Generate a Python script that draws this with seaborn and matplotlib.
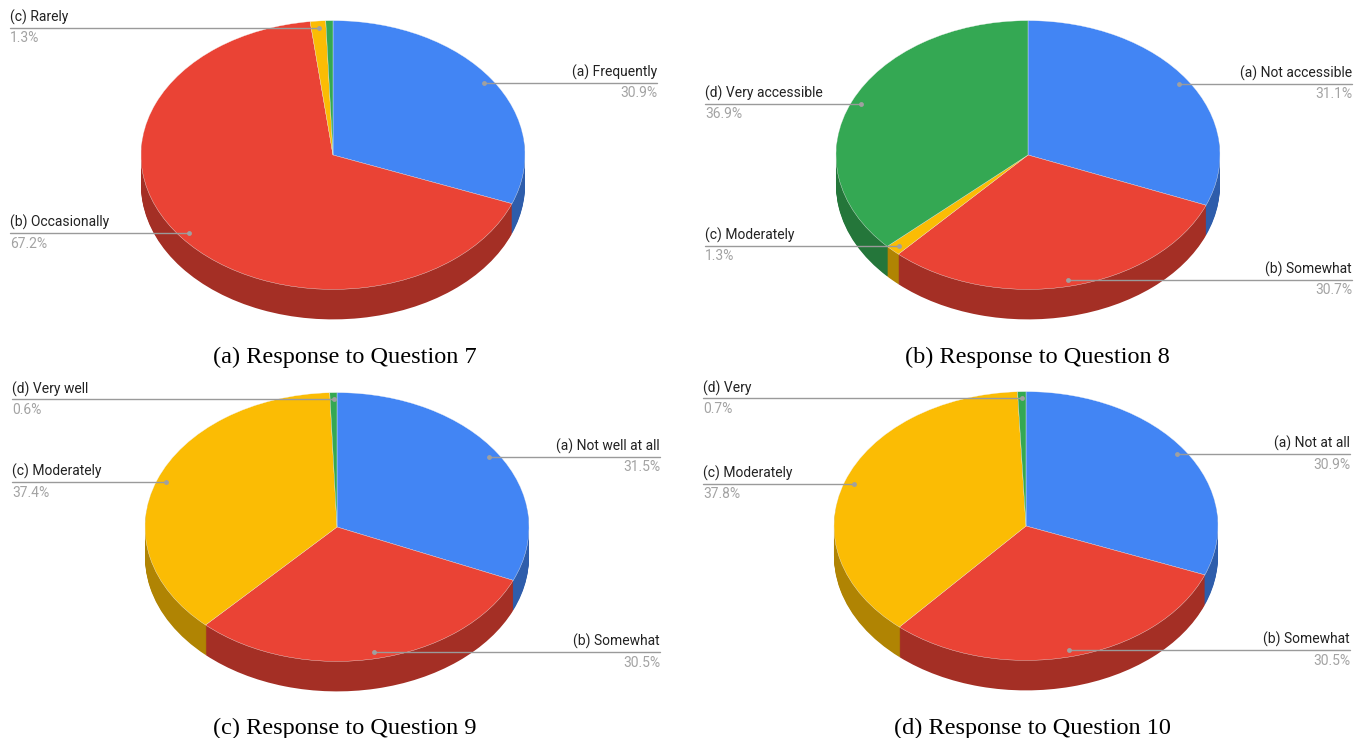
import numpy as np
import matplotlib
matplotlib.use("Agg")
import matplotlib.pyplot as plt
import seaborn as sns

# ---------------- data ----------------
q7_labels = ["(a) Frequently", "(b) Occasionally", "(c) Rarely", ""]
q7_values = [30.9, 67.2, 1.3, 0.6]

q8_labels = ["(a) Not accessible", "(b) Somewhat", "(c) Moderately", "(d) Very accessible"]
q8_values = [31.1, 30.7, 1.3, 36.9]

q9_labels = ["(a) Not well at all", "(b) Somewhat", "(c) Moderately", "(d) Very well"]
q9_values = [31.5, 30.5, 37.4, 0.6]

q10_labels = ["(a) Not at all", "(b) Somewhat", "(c) Moderately", "(d) Very"]
q10_values = [30.9, 30.5, 37.8, 0.7]

captions = ["(a) Response to Question 7", "(b) Response to Question 8",
            "(c) Response to Question 9", "(d) Response to Question 10"]

top_colors = ["#4285F4", "#EA4335", "#FBBC04", "#34A853"]
side_colors = ["#2E5DAB", "#A42F25", "#B08403", "#24763A"]

# ---------------- layout ----------------
W, H = 1355, 738
RATIO = 0.70   # vertical squash of the tilted pie
RX = 192       # pie radius in pixels
DEPTH = 30     # pie thickness in pixels
DOT_R = 0.95

panels = [
    dict(labels=q7_labels, values=q7_values, caption=captions[0],
         cx=333, cy=155, left=10, right=657, cap_x=345, cap_y=357),
    dict(labels=q8_labels, values=q8_values, caption=captions[1],
         cx=1028, cy=155, left=705, right=1352, cap_x=1037, cap_y=357),
    dict(labels=q9_labels, values=q9_values, caption=captions[2],
         cx=337, cy=527, left=12, right=660, cap_x=345, cap_y=728),
    dict(labels=q10_labels, values=q10_values, caption=captions[3],
         cx=1026, cy=526, left=703, right=1350, cap_x=1032, cap_y=728),
]

sns.set_theme(style="white")
plt.rcParams['font.family'] = ['Roboto', 'DejaVu Sans']

fig = plt.figure(figsize=(W / 100, H / 100), dpi=100)
ax = fig.add_axes([0, 0, 1, 1])
ov = fig.add_axes([0, 0, 1, 1])

def ydata(py):
    return (H - py) / RATIO

for p in panels:
    vals = p["values"]
    # side (thickness) built from stacked darker pies
    for k in range(DEPTH, 0, -1):
        ax.pie(vals, colors=side_colors, radius=RX,
               center=(p["cx"], ydata(p["cy"] + k)),
               startangle=90, counterclock=False,
               wedgeprops=dict(linewidth=0))
    # top face
    ax.pie(vals, colors=top_colors, radius=RX,
           center=(p["cx"], ydata(p["cy"])),
           startangle=90, counterclock=False,
           wedgeprops=dict(edgecolor="#f4f4f4", linewidth=0.25))

    total = float(sum(vals))
    cum = 0.0
    for lab, v in zip(p["labels"], vals):
        mid = np.deg2rad((cum + v / 2) / total * 360.0)
        cum += v
        if not lab:
            continue
        dx = p["cx"] + DOT_R * RX * np.sin(mid)
        dy = p["cy"] - DOT_R * RX * RATIO * np.cos(mid)
        if dx > p["cx"]:
            ov.plot([dx, p["right"]], [dy, dy], color="#9a9a9a", lw=1.0)
            tx, ha = p["right"], "right"
        else:
            ov.plot([p["left"], dx], [dy, dy], color="#9a9a9a", lw=1.0)
            tx, ha = p["left"], "left"
        ov.plot([dx], [dy], "o", ms=3.5, color="#a0a0a0", mec="none")
        ov.text(tx, dy - 10.5, lab, ha=ha, va="center", fontsize=10, color="#222222")
        ov.text(tx, dy + 10.5, f"{v}%", ha=ha, va="center", fontsize=10, color="#a3a3a3")

    ov.text(p["cap_x"], p["cap_y"], p["caption"], ha="center", va="center",
            family=["Liberation Serif", "DejaVu Serif"], fontsize=17.5, color="black")

ax.set_xlim(0, W)
ax.set_ylim(0, H / RATIO)
ax.set_aspect("auto")
ax.axis("off")

ov.set_xlim(0, W)
ov.set_ylim(H, 0)
ov.axis("off")
ov.patch.set_alpha(0)

fig.savefig("out.png", dpi=100, facecolor="white")
